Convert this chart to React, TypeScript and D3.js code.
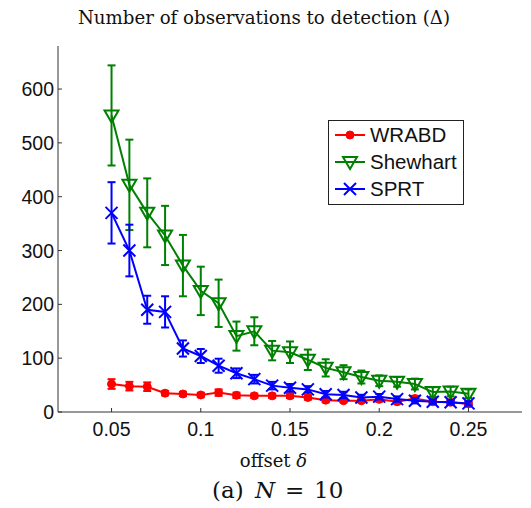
import React from "react";
import * as d3 from "d3";

const offsets = [0.05, 0.06, 0.07, 0.08, 0.09, 0.1, 0.11, 0.12, 0.13, 0.14, 0.15, 0.16, 0.17, 0.18, 0.19, 0.2, 0.21, 0.22, 0.23, 0.24, 0.25];
const wrabd = [52, 48, 47, 35, 33.5, 31.6, 36, 31, 30, 30, 30, 27, 22, 21, 21, 23.5, 19, 25, 19, 18, 15];
const wrabdErr = [9, 8, 8, 4, 4, 4, 6, 5, 4, 4, 4, 4, 4, 3, 3, 4, 3, 5, 3, 3, 3];
const shewhart = [551, 422, 370, 328, 272, 225, 202, 141, 150, 114, 111, 97, 82, 74, 65, 58, 56, 52, 37, 38, 34];
const shewhartErr = [93, 84, 64, 55, 57, 45, 44, 27, 26, 18, 20, 19, 16, 13, 12, 10, 9, 10, 9, 9, 8];
const sprt = [370, 300, 190, 186, 118, 104, 86, 72, 61, 49, 45, 42, 33, 31.6, 27, 28.5, 24, 21, 19, 18, 16];
const sprtErr = [57, 48, 26, 29, 15, 13, 13, 9, 8, 7, 7, 6, 6, 6, 5, 5, 5, 5, 4, 4, 4];

const xTicks = [0.05, 0.1, 0.15, 0.2, 0.25];
const xTickLabels = ["0.05", "0.1", "0.15", "0.2", "0.25"];
const yTicks = [0, 100, 200, 300, 400, 500, 600];
const seriesNames = ["WRABD", "Shewhart", "SPRT"];
const seriesColors = ["#ff0000", "#008000", "#0000ff"];

const W = 531;
const H = 508;

export default function App() {
  const x = d3.scaleLinear().domain([0.02, 0.28]).range([58, 522]);
  const y = d3.scaleLinear().domain([0, 680]).range([412, 46]);
  const line = d3
    .line<[number, number]>()
    .x((d) => x(d[0]))
    .y((d) => y(d[1]));

  const series = [
    { name: seriesNames[0], color: seriesColors[0], vals: wrabd, err: wrabdErr, marker: "dot" },
    { name: seriesNames[1], color: seriesColors[1], vals: shewhart, err: shewhartErr, marker: "tri" },
    { name: seriesNames[2], color: seriesColors[2], vals: sprt, err: sprtErr, marker: "x" },
  ];

  const drawMarker = (m: string, cx: number, cy: number, color: string, key: any) => {
    if (m === "dot") return <circle key={key} cx={cx} cy={cy} r={4} fill={color} stroke={color} strokeWidth={1} />;
    if (m === "tri")
      return (
        <path
          key={key}
          d={`M${cx - 7},${cy - 5}L${cx + 7},${cy - 5}L${cx},${cy + 7}Z`}
          fill="none"
          stroke={color}
          strokeWidth={2}
        />
      );
    return (
      <path
        key={key}
        d={`M${cx - 6},${cy - 6}L${cx + 6},${cy + 6}M${cx - 6},${cy + 6}L${cx + 6},${cy - 6}`}
        stroke={color}
        strokeWidth={2}
      />
    );
  };

  const serif = "'DejaVu Serif', 'Liberation Serif', serif";
  const sans = "'Liberation Sans', Arial, sans-serif";

  return (
    <svg width={W} height={H} style={{ position: "absolute", left: 0, top: 0 }}>
      <rect width={W} height={H} fill="#fff" />
      <text x={264} y={24} textAnchor="middle" fontFamily={serif} fontSize={18.2} fill="#111">
        Number of observations to detection (Δ)
      </text>

      {/* series */}
      {series.map((s, si) => {
        const pts = offsets.map((o, i) => [o, s.vals[i]] as [number, number]);
        return (
          <g key={si}>
            {offsets.map((o, i) => {
              const cx = x(o);
              const y1 = y(s.vals[i] + s.err[i]);
              const y2 = y(s.vals[i] - s.err[i]);
              return (
                <g key={i} stroke={s.color} strokeWidth={2}>
                  <line x1={cx} x2={cx} y1={y1} y2={y2} />
                  <line x1={cx - 4} x2={cx + 4} y1={y1} y2={y1} />
                  <line x1={cx - 4} x2={cx + 4} y1={y2} y2={y2} />
                </g>
              );
            })}
            <path d={line(pts) || ""} fill="none" stroke={s.color} strokeWidth={2} />
            {offsets.map((o, i) => drawMarker(s.marker, x(o), y(s.vals[i]), s.color, i))}
          </g>
        );
      })}

      {/* axes */}
      <g stroke="#333" strokeWidth={1}>
        <line x1={58} x2={58} y1={46} y2={412} />
        <line x1={58} x2={522} y1={412} y2={412} />
        {yTicks.map((t) => (
          <line key={t} x1={58} x2={62} y1={y(t)} y2={y(t)} />
        ))}
        {xTicks.map((t) => (
          <line key={t} x1={x(t)} x2={x(t)} y1={412} y2={408} />
        ))}
      </g>
      <g fontFamily={sans} fontSize={19.5} fill="#111">
        {yTicks.map((t) => (
          <text key={t} x={54} y={y(t) + 7} textAnchor="end">
            {t}
          </text>
        ))}
        {xTicks.map((t, i) => (
          <text key={t} x={x(t)} y={436} textAnchor="middle">
            {xTickLabels[i]}
          </text>
        ))}
      </g>

      <text x={273.5} y={467} textAnchor="middle" fontFamily={serif} fontSize={18} fill="#111">
        offset <tspan fontStyle="italic">δ</tspan>
      </text>
      <text y={498} fontFamily={serif} fontSize={23} fill="#111">
        <tspan x={212}>(a)</tspan>
        <tspan x={255} fontStyle="italic">N</tspan>
        <tspan x={285}>=</tspan>
        <tspan x={314}>10</tspan>
      </text>

      {/* legend */}
      <rect x={328.5} y={120.5} width={135} height={84} fill="#fff" stroke="#222" strokeWidth={1} />
      {series.map((s, i) => {
        const ly = 135 + i * 27;
        return (
          <g key={i}>
            <line x1={335} x2={365} y1={ly} y2={ly} stroke={s.color} strokeWidth={2} />
            {drawMarker(s.marker, 350, ly, s.color, "m")}
            <text x={370} y={ly + 7} fontFamily={sans} fontSize={20.5} fill="#111">
              {s.name}
            </text>
          </g>
        );
      })}
    </svg>
  );
}
